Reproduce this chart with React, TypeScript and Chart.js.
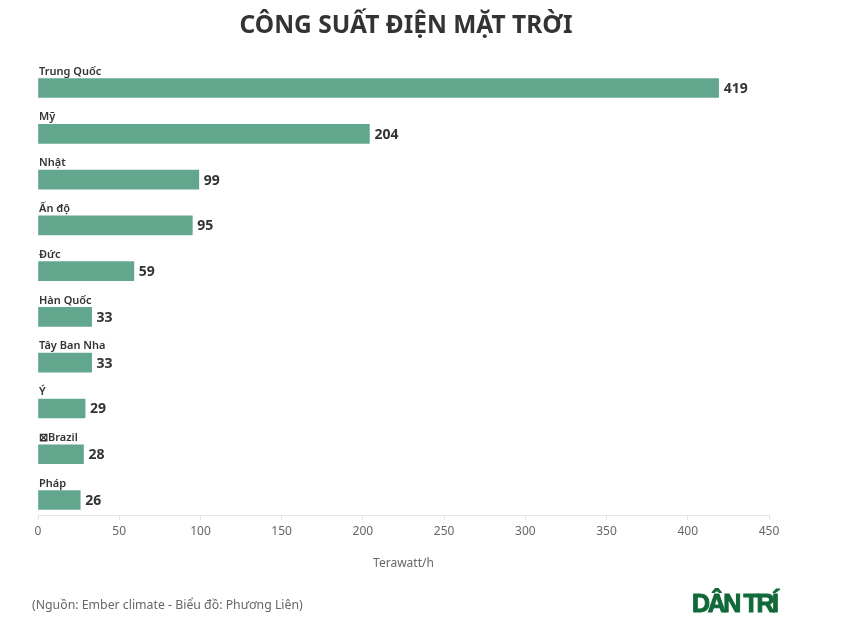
import { useEffect, useRef } from "react";
import { Chart, registerables } from "chart.js";

Chart.register(...registerables);

const categories = ["Trung Quốc", "Mỹ", "Nhật", "Ấn độ", "Đức", "Hàn Quốc", "Tây Ban Nha", "Ý", "⊠Brazil", "Pháp"];
const values = [419, 204, 99, 95, 59, 33, 33, 29, 28, 26];
const xTicks = [0, 50, 100, 150, 200, 250, 300, 350, 400, 450];

const FONT = "'Noto Sans', sans-serif";

// title, value labels, source line and logo
const textPlugin = {
  id: "texts",
  afterDatasetsDraw(chart: any) {
    const { ctx } = chart;
    const meta = chart.getDatasetMeta(0);
    ctx.save();
    ctx.textBaseline = "middle";

    ctx.fillStyle = "#333333";
    ctx.font = `700 14px ${FONT}`;
    ctx.textAlign = "left";
    meta.data.forEach((bar: any, i: number) => {
      ctx.fillText(String(values[i]), bar.x + 5, bar.y + 1);
    });

    ctx.font = `700 24.5px ${FONT}`;
    ctx.textAlign = "center";
    ctx.fillText("CÔNG SUẤT ĐIỆN MẶT TRỜI", 406, 26);

    ctx.fillStyle = "#666666";
    ctx.font = `400 12.3px ${FONT}`;
    ctx.textAlign = "left";
    ctx.fillText("(Nguồn: Ember climate - Biểu đồ: Phương Liên)", 32, 605);

    ctx.fillStyle = "#11693a";
    ctx.strokeStyle = "#11693a";
    ctx.lineWidth = 1;
    ctx.font = "700 25px 'Liberation Sans', sans-serif";
    ctx.letterSpacing = "-2.4px";
    ctx.fillText("DÂN TRÍ", 692, 605);
    ctx.strokeText("DÂN TRÍ", 692, 605);
    ctx.restore();
  },
};

export default function App() {
  const canvasRef = useRef<HTMLCanvasElement>(null);

  useEffect(() => {
    if (!canvasRef.current) return;
    document.body.style.margin = "0";

    const chart = new Chart(canvasRef.current, {
      type: "bar",
      data: {
        datasets: [
          {
            data: values.map((v, i) => ({ x: v, y: i })),
            backgroundColor: "#62a68d",
            barThickness: 19,
          },
        ],
      },
      options: {
        indexAxis: "y",
        animation: false,
        responsive: false,
        layout: { padding: { left: 38, right: 85, top: 60, bottom: 54 } },
        plugins: { legend: { display: false }, tooltip: { enabled: false } },
        scales: {
          x: {
            min: 0,
            max: 450,
            afterBuildTicks: (scale: any) => {
              scale.ticks = xTicks.map((value) => ({ value }));
            },
            afterFit: (scale: any) => {
              scale.height = 60;
            },
            grid: { drawOnChartArea: false, color: "#e6e6e6", tickLength: 5 },
            border: { color: "#e6e6e6" },
            ticks: { color: "#666666", font: { family: FONT, size: 12 }, padding: 4, maxRotation: 0 },
            title: {
              display: true,
              text: "Terawatt/h",
              color: "#666666",
              font: { family: FONT, size: 12 },
              padding: { top: 14, bottom: 4 },
            },
          },
          y: {
            type: "linear",
            reverse: true,
            offset: false,
            min: -0.612,
            max: 9.327,
            afterBuildTicks: (scale: any) => {
              scale.ticks = categories.map((_, value) => ({ value }));
            },
            afterFit: (scale: any) => {
              scale.width = 0;
            },
            grid: { display: false },
            border: { display: false },
            ticks: {
              mirror: true,
              padding: 1,
              labelOffset: -16.5,
              autoSkip: false,
              color: "#333333",
              font: { family: FONT, size: 11, weight: 600 },
              callback: (value: any) => categories[value],
            },
          },
        },
      },
      plugins: [textPlugin],
    } as any);

    return () => chart.destroy();
  }, []);

  return <canvas ref={canvasRef} width={854} height={629} style={{ display: "block" }} />;
}
